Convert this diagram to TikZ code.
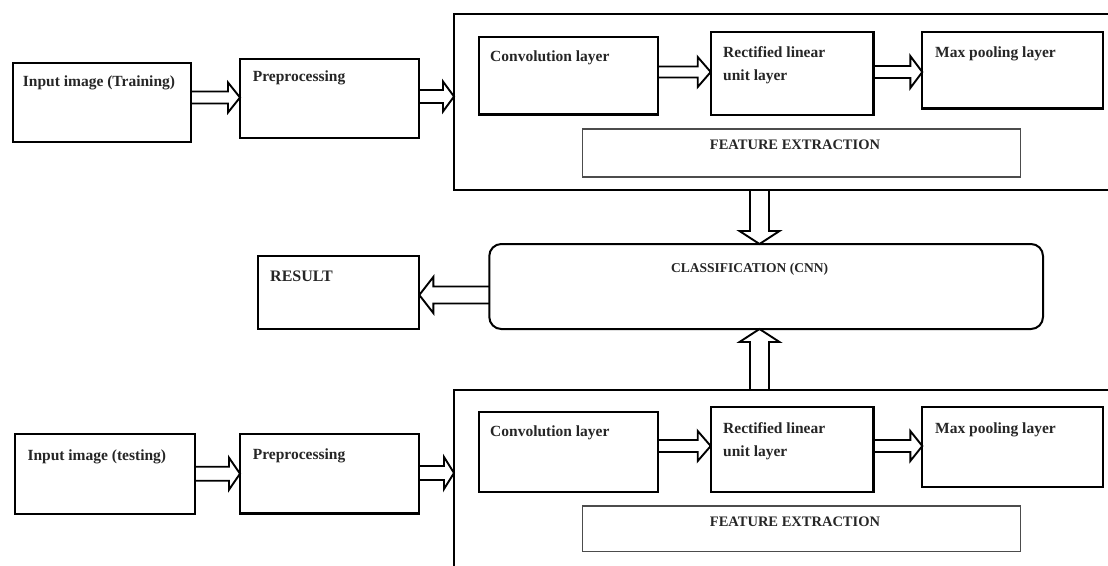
\documentclass[tikz,border=0pt]{standalone}
\usepackage{fontspec}
\setmainfont{Liberation Serif}
\usetikzlibrary{calc}
\tikzset{
  box/.style={draw=black, line width=2.2pt, anchor=north west, inner sep=0pt, outer sep=0pt},
  bigbox/.style={box, line width=2pt},
  febox/.style={box, draw=black!70, line width=1.5pt},
  clsbox/.style={box, line width=2pt, rounded corners=12pt},
  lbl/.style={anchor=base west, inner sep=0pt, text=black!85, font=\bfseries\fontsize{15.5}{23.3}\selectfont},
  caps/.style={anchor=base, inner sep=0pt, text=black!85, font=\bfseries\fontsize{14.5}{17}\selectfont},
  arrowline/.style={draw=black, line width=1.9pt, line join=miter}
}
% hollow block arrow from #1 to tip #2; #3 shaft half width, #4 head half width, #5 head length
\newcommand\blockarrow[5]{%
  \coordinate (as) at (#1);
  \coordinate (at) at (#2);
  \coordinate (hb) at ($(at)!#5pt!(as)$);
  \draw[arrowline] ($(as)!#3pt!90:(at)$) -- ($(hb)!#3pt!-90:(as)$) -- ($(hb)!#4pt!-90:(as)$) -- (at)
     -- ($(hb)!#4pt!90:(as)$) -- ($(hb)!#3pt!90:(as)$) -- ($(as)!#3pt!-90:(at)$);
}
\begin{document}
\begin{tikzpicture}[x=1pt,y=-1pt]
\useasboundingbox (0,0) rectangle (1108,565);
\clip (0,0) rectangle (1108,565);
\fill[white] (0,0) rectangle (1108,565);

% ---------- top row ----------
\node[box, minimum width=178pt, minimum height=78.4pt] (in1) at (12.7,63.3) {};
\node[box, minimum width=179.3pt, minimum height=79pt] (pre1) at (240,59) {};
\node[bigbox, minimum width=671pt, minimum height=176pt] (big1) at (454,13.5) {};
\node[box, minimum width=179.1pt, minimum height=77.8pt] (conv1) at (478.6,36.7) {};
\node[box, minimum width=162.8pt, minimum height=82.7pt] (relu1) at (710.7,32.3) {};
\node[box, minimum width=181pt, minimum height=76.5pt] (max1) at (922.3,32) {};
\node[febox, minimum width=438.3pt, minimum height=48pt] (fe1) at (582.3,129) {};

\node[lbl] (tin1) at (22.7,86) {Input image (Training)};
\node[lbl] (tpre1) at (252.7,81.5) {Preprocessing};
\node[lbl] (tconv1) at (490,61.5) {Convolution layer};
\node[lbl, anchor=north west, align=left] (trelu1) at (723,46.1) {Rectified linear\\unit layer};
\node[lbl] (tmax1) at (935,57) {Max pooling layer};
\node[caps] (tfe1) at (795,149) {FEATURE EXTRACTION};

% ---------- middle ----------
\node[clsbox, minimum width=553.7pt, minimum height=85pt] (cls) at (489.3,244) {};
\node[box, minimum width=161pt, minimum height=73.3pt] (res) at (258.3,256) {};
\node[caps, anchor=base west, font=\bfseries\fontsize{13.5}{16}\selectfont] (tcls) at (671,272.5) {CLASSIFICATION (CNN)};
\node[caps, anchor=base west, font=\bfseries\fontsize{16}{19}\selectfont] (tres) at (270,281) {RESULT};

% ---------- bottom row ----------
\node[box, minimum width=180pt, minimum height=80pt] (in2) at (15,434) {};
\node[box, minimum width=179.3pt, minimum height=79.5pt] (pre2) at (240,434) {};
\node[bigbox, minimum width=671pt, minimum height=200pt] (big2) at (454,390) {};
\node[box, minimum width=179.1pt, minimum height=80pt] (conv2) at (478.6,411.7) {};
\node[box, minimum width=162.8pt, minimum height=85.3pt] (relu2) at (710.7,406.7) {};
\node[box, minimum width=181pt, minimum height=79.7pt] (max2) at (922.3,407) {};
\node[febox, minimum width=438.3pt, minimum height=45.7pt] (fe2) at (582.3,506) {};

\node[lbl] (tin2) at (27.3,460) {Input image (testing)};
\node[lbl] (tpre2) at (252.7,459) {Preprocessing};
\node[lbl] (tconv2) at (490,436.7) {Convolution layer};
\node[lbl, anchor=north west, align=left] (trelu2) at (723,422.1) {Rectified linear\\unit layer};
\node[lbl] (tmax2) at (935,433.3) {Max pooling layer};
\node[caps] (tfe2) at (795,526) {FEATURE EXTRACTION};

% ---------- arrows ----------
\blockarrow{in1.east |- 0,97.5}{pre1.west |- 0,97.5}{6}{15}{12}
\blockarrow{pre1.east |- 0,96.5}{big1.west |- 0,96.5}{6.5}{15}{11}
\blockarrow{conv1.east |- 0,72}{relu1.west |- 0,72}{5.5}{15}{13}
\blockarrow{relu1.east |- 0,72}{max1.west |- 0,72}{6}{16}{12}
\blockarrow{big1.south -| 759.5,0}{cls.north -| 759.5,0}{9.5}{20}{13}
\blockarrow{cls.west |- 0,295}{res.east |- 0,295}{8.5}{18}{14}
\blockarrow{big2.north -| 759.5,0}{cls.south -| 759.5,0}{9.5}{20}{13}
\blockarrow{in2.east |- 0,473.7}{pre2.west |- 0,473.7}{7}{16}{11}
\blockarrow{pre2.east |- 0,473}{big2.west |- 0,473}{7}{16}{10}
\blockarrow{conv2.east |- 0,446}{relu2.west |- 0,446}{6}{15}{13}
\blockarrow{relu2.east |- 0,446}{max2.west |- 0,446}{6}{15}{12}
\end{tikzpicture}
\end{document}
